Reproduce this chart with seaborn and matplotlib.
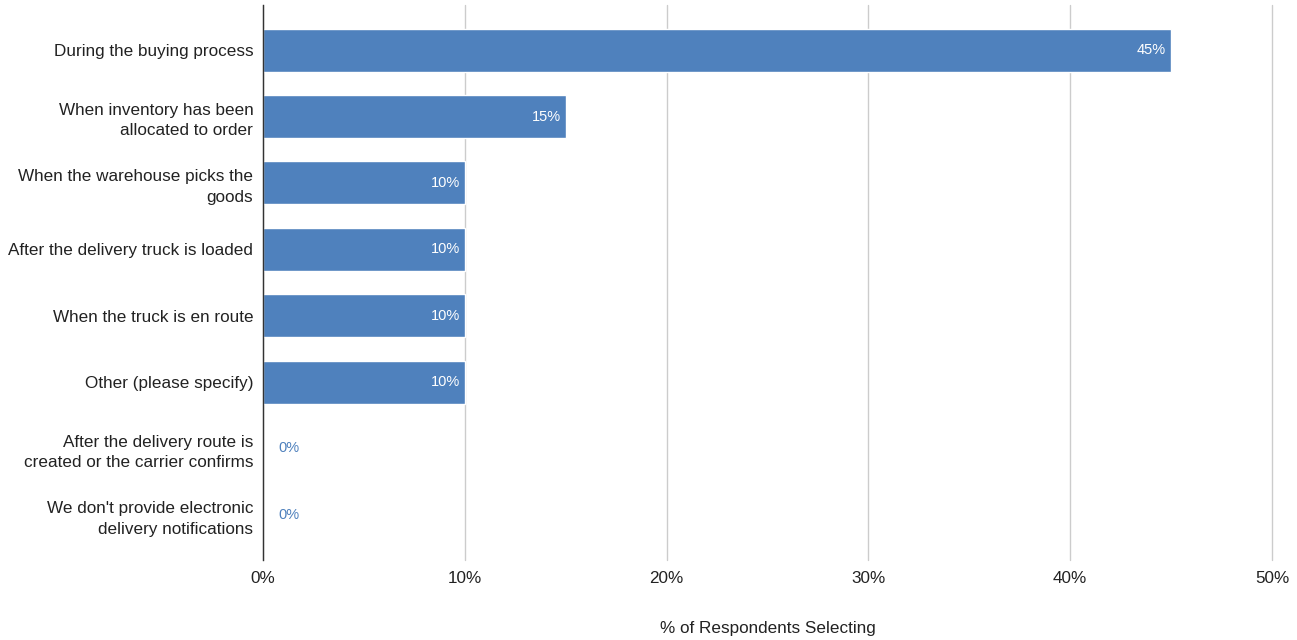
import matplotlib
matplotlib.use("Agg")
import matplotlib.pyplot as plt
import seaborn as sns
import pandas as pd

# categories and percentages
categories = [
    "During the buying process",
    "When inventory has been\nallocated to order",
    "When the warehouse picks the\ngoods",
    "After the delivery truck is loaded",
    "When the truck is en route",
    "Other (please specify)",
    "After the delivery route is\ncreated or the carrier confirms",
    "We don't provide electronic\ndelivery notifications",
]
values = [45, 15, 10, 10, 10, 10, 0, 0]
xticks = [0, 10, 20, 30, 40, 50]

df = pd.DataFrame({"cat": categories, "pct": values})

sns.set_style("white")
plt.rcParams["font.family"] = ["Liberation Sans", "DejaVu Sans"]

fig = plt.figure(figsize=(12.97, 6.4), dpi=100)
ax = fig.add_axes([263 / 1297, 80 / 640, (1272 - 263) / 1297, 555 / 640])

bar_color = "#4f81bd"
sns.barplot(data=df, x="pct", y="cat", color=bar_color, saturation=1,
            width=0.65, ax=ax, zorder=3)

ax.set_xlim(0, 50)
ax.set_ylim(len(categories) - 1 + 0.68, -0.68)
ax.set_xticks(xticks)
ax.set_xticklabels([f"{t}%" for t in xticks], fontsize=12.3, color="#222222")
ax.tick_params(axis="y", labelsize=12.3, labelcolor="#222222", length=0, pad=7)
ax.tick_params(axis="x", length=0, pad=8)
for lab in ax.get_yticklabels():
    lab.set_linespacing(1.45)
    lab.set_y(lab.get_position()[1])
    lab.set_va("center_baseline")
ax.grid(axis="x", color="#cccccc", linewidth=1, zorder=0)
ax.grid(axis="y", visible=False)
for gl in ax.get_xgridlines():
    gl.set_clip_on(False)
for s in ["top", "right", "bottom"]:
    ax.spines[s].set_visible(False)
ax.spines["left"].set_color("#333333")
ax.spines["left"].set_linewidth(1)
ax.spines["left"].set_zorder(4)
ax.set_ylabel("")
ax.set_xlabel("% of Respondents Selecting", fontsize=12.3, color="#222222", labelpad=25)

for i, v in enumerate(values):
    if v > 0:
        ax.text(v - 0.25, i, f"{v}%", ha="right", va="center", color="white",
                fontsize=10.5, zorder=5)
    else:
        ax.text(0.75, i, f"{v}%", ha="left", va="center", color=bar_color,
                fontsize=10.5, zorder=5)

fig.savefig("out.png", dpi=100)
